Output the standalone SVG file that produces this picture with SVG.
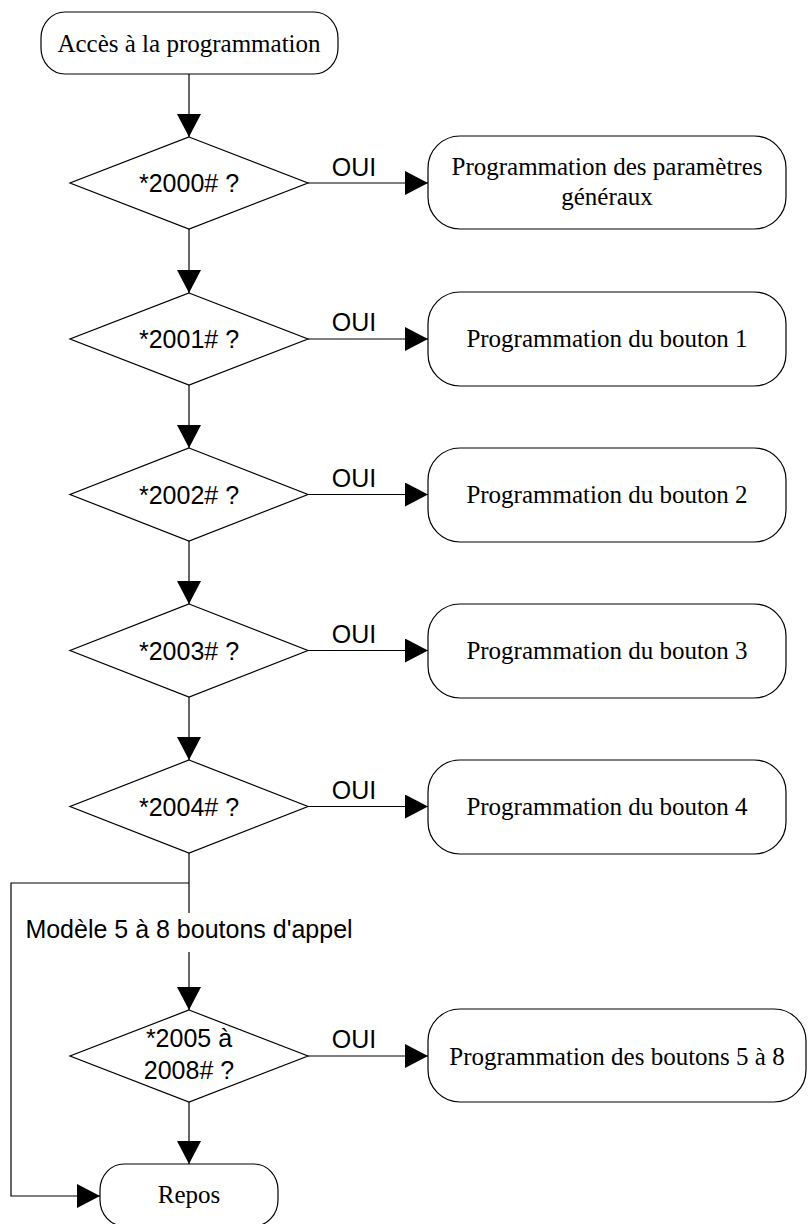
<svg xmlns="http://www.w3.org/2000/svg" width="808" height="1224" viewBox="0 0 808 1224">
<defs>
<style>
.shape{fill:#fff;stroke:#000;stroke-width:1.2}
.con{fill:none;stroke:#000;stroke-width:1.2}
.serif{font-family:"Liberation Serif","Times New Roman",serif;font-size:25px;fill:#000;text-anchor:middle}
.sans{font-family:"Liberation Sans",Arial,sans-serif;font-size:25px;fill:#000;text-anchor:middle}
</style>
<marker id="arr" markerUnits="userSpaceOnUse" markerWidth="24" markerHeight="24" refX="23" refY="12" orient="auto">
<path d="M0,0 L23,12 L0,24 Z" fill="#000"/>
</marker>
</defs>
<rect width="808" height="1224" fill="#fff"/>

<g id="connectors">
<line class="con" x1="189" y1="74" x2="189" y2="137" marker-end="url(#arr)"/>
<line class="con" x1="189" y1="229" x2="189" y2="293" marker-end="url(#arr)"/>
<line class="con" x1="189" y1="385" x2="189" y2="448" marker-end="url(#arr)"/>
<line class="con" x1="189" y1="541" x2="189" y2="604" marker-end="url(#arr)"/>
<line class="con" x1="189" y1="697" x2="189" y2="760" marker-end="url(#arr)"/>
<line class="con" x1="189" y1="853" x2="189" y2="913"/>
<line class="con" x1="189" y1="952" x2="189" y2="1010" marker-end="url(#arr)"/>
<line class="con" x1="189" y1="1102" x2="189" y2="1164" marker-end="url(#arr)"/>
<polyline class="con" points="189,883 11,883 11,1196 100,1196" marker-end="url(#arr)"/>
<line class="con" x1="308" y1="183" x2="428" y2="183" marker-end="url(#arr)"/>
<line class="con" x1="308" y1="339" x2="428" y2="339" marker-end="url(#arr)"/>
<line class="con" x1="308" y1="494.5" x2="428" y2="494.5" marker-end="url(#arr)"/>
<line class="con" x1="308" y1="650.5" x2="428" y2="650.5" marker-end="url(#arr)"/>
<line class="con" x1="308" y1="806.5" x2="428" y2="806.5" marker-end="url(#arr)"/>
<line class="con" x1="308" y1="1056" x2="428" y2="1056" marker-end="url(#arr)"/>
<text class="sans" x="354" y="176">OUI</text>
<text class="sans" x="354" y="331">OUI</text>
<text class="sans" x="354" y="486.5">OUI</text>
<text class="sans" x="354" y="642.5">OUI</text>
<text class="sans" x="354" y="798.5">OUI</text>
<text class="sans" x="354" y="1048">OUI</text>
<text class="sans" x="189" y="938">Modèle 5 à 8 boutons d'appel</text>
</g>

<g id="start">
<rect class="shape" x="41" y="12" width="297" height="62" rx="24" ry="26"/>
<text class="serif" x="189" y="52">Accès à la programmation</text>
</g>

<g id="d2000">
<polygon class="shape" points="189,137 308,183 189,229 70,183"/>
<text class="sans" x="189" y="192">*2000# ?</text>
</g>
<g id="d2001">
<polygon class="shape" points="189,293 308,339 189,385 70,339"/>
<text class="sans" x="189" y="348">*2001# ?</text>
</g>
<g id="d2002">
<polygon class="shape" points="189,448 308,494.5 189,541 70,494.5"/>
<text class="sans" x="189" y="503.5">*2002# ?</text>
</g>
<g id="d2003">
<polygon class="shape" points="189,604 308,650.5 189,697 70,650.5"/>
<text class="sans" x="189" y="659.5">*2003# ?</text>
</g>
<g id="d2004">
<polygon class="shape" points="189,760 308,806.5 189,853 70,806.5"/>
<text class="sans" x="189" y="815.5">*2004# ?</text>
</g>
<g id="d2005">
<polygon class="shape" points="189,1010 308,1056 189,1102 70,1056"/>
<text class="sans" x="189" y="1047">*2005 à</text>
<text class="sans" x="189" y="1079">2008# ?</text>
</g>

<g id="p-generaux">
<rect class="shape" x="428" y="136" width="358" height="93" rx="32" ry="32"/>
<text class="serif" x="607" y="175">Programmation des paramètres</text>
<text class="serif" x="607" y="205">généraux</text>
</g>
<g id="p-bouton1">
<rect class="shape" x="428" y="292" width="358" height="94" rx="32" ry="32"/>
<text class="serif" x="607" y="347">Programmation du bouton 1</text>
</g>
<g id="p-bouton2">
<rect class="shape" x="428" y="448" width="358" height="94" rx="32" ry="32"/>
<text class="serif" x="607" y="503">Programmation du bouton 2</text>
</g>
<g id="p-bouton3">
<rect class="shape" x="428" y="604" width="358" height="94" rx="32" ry="32"/>
<text class="serif" x="607" y="659">Programmation du bouton 3</text>
</g>
<g id="p-bouton4">
<rect class="shape" x="428" y="760" width="358" height="94" rx="32" ry="32"/>
<text class="serif" x="607" y="815">Programmation du bouton 4</text>
</g>
<g id="p-boutons5-8">
<rect class="shape" x="428" y="1009" width="378" height="93" rx="32" ry="32"/>
<text class="serif" x="617" y="1065">Programmation des boutons 5 à 8</text>
</g>

<g id="repos">
<rect class="shape" x="100" y="1164" width="178" height="62" rx="24" ry="26"/>
<text class="serif" x="189" y="1203">Repos</text>
</g>
</svg>
